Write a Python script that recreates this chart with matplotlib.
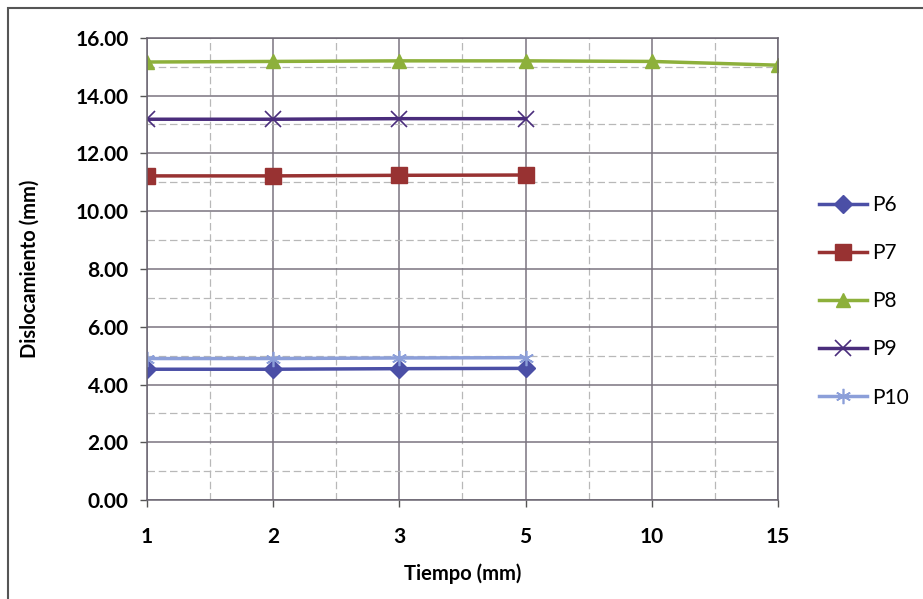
import matplotlib.pyplot as plt
from matplotlib.ticker import MultipleLocator, FixedLocator, FuncFormatter
from matplotlib.patches import Rectangle

plt.rcParams['font.family'] = ['Lato', 'DejaVu Sans']

tiempos = ["1", "2", "3", "5", "10", "15"]
p6 = [4.53, 4.53, 4.55, 4.56]
p7 = [11.22, 11.22, 11.24, 11.25]
p8 = [15.16, 15.18, 15.2, 15.2, 15.18, 15.05]
p9 = [13.18, 13.18, 13.2, 13.2]
p10 = [4.9, 4.9, 4.92, 4.93]

fig = plt.figure(figsize=(9.23, 5.99), dpi=100)
ax = fig.add_axes([0.159, 0.165, 0.684, 0.772])

# borde exterior del grafico
fig.patches.append(Rectangle((0.009, -0.01), 0.995, 0.997, transform=fig.transFigure,
                             fill=False, edgecolor='#555555', linewidth=1.5))

x = list(range(len(tiempos)))
ax.plot(x[:4], p6, color='#4B4FA6', lw=2.5, marker='D', ms=9, label='P6')
ax.plot(x[:4], p7, color='#983232', lw=2.5, marker='s', ms=11, label='P7')
ax.plot(x, p8, color='#8DB03B', lw=2.5, marker='^', ms=10, label='P8')
ax.plot(x[:4], p9, color='#4A2D7C', lw=2.5, marker='x', ms=11, mew=1.2, label='P9')
ax.plot(x[:4], p10, color='#8C9FD9', lw=2.5, marker=(6, 2, 0), ms=11, mew=1.2, label='P10')

ax.set_xlim(0, 5)
ax.set_ylim(0, 16)
ax.xaxis.set_major_locator(FixedLocator(x))
ax.set_xticklabels(tiempos)
ax.xaxis.set_minor_locator(MultipleLocator(0.5))
ax.yaxis.set_major_locator(MultipleLocator(2))
ax.yaxis.set_minor_locator(MultipleLocator(1))
ax.yaxis.set_major_formatter(FuncFormatter(lambda v, p: f"{v:.2f}"))

ax.grid(which='major', color='#7a7480', lw=1.1)
ax.grid(which='minor', color='#b8b8b8', lw=0.9, ls=(0, (6, 3)))
ax.set_axisbelow(True)

for s in ax.spines.values():
    s.set_color('#6a6470')
    s.set_linewidth(1.1)
ax.tick_params(which='major', length=5, color='#555555', width=1)
ax.tick_params(which='minor', length=0)
ax.tick_params(axis='x', pad=14)
ax.tick_params(axis='y', pad=8)
for t in ax.get_xticklabels() + ax.get_yticklabels():
    t.set_fontsize(15)
    t.set_fontweight('bold')

ax.set_xlabel('Tiempo (mm)', fontsize=14.5, fontweight='bold', labelpad=12)
ax.set_ylabel('Dislocamiento (mm)', fontsize=14.5, fontweight='bold', labelpad=26)

leg = ax.legend(loc='center left', bbox_to_anchor=(1.035, 0.43), frameon=False,
                fontsize=15, labelspacing=1.35, handlelength=2.3, handletextpad=0.25)

plt.savefig('out.png', dpi=100)
